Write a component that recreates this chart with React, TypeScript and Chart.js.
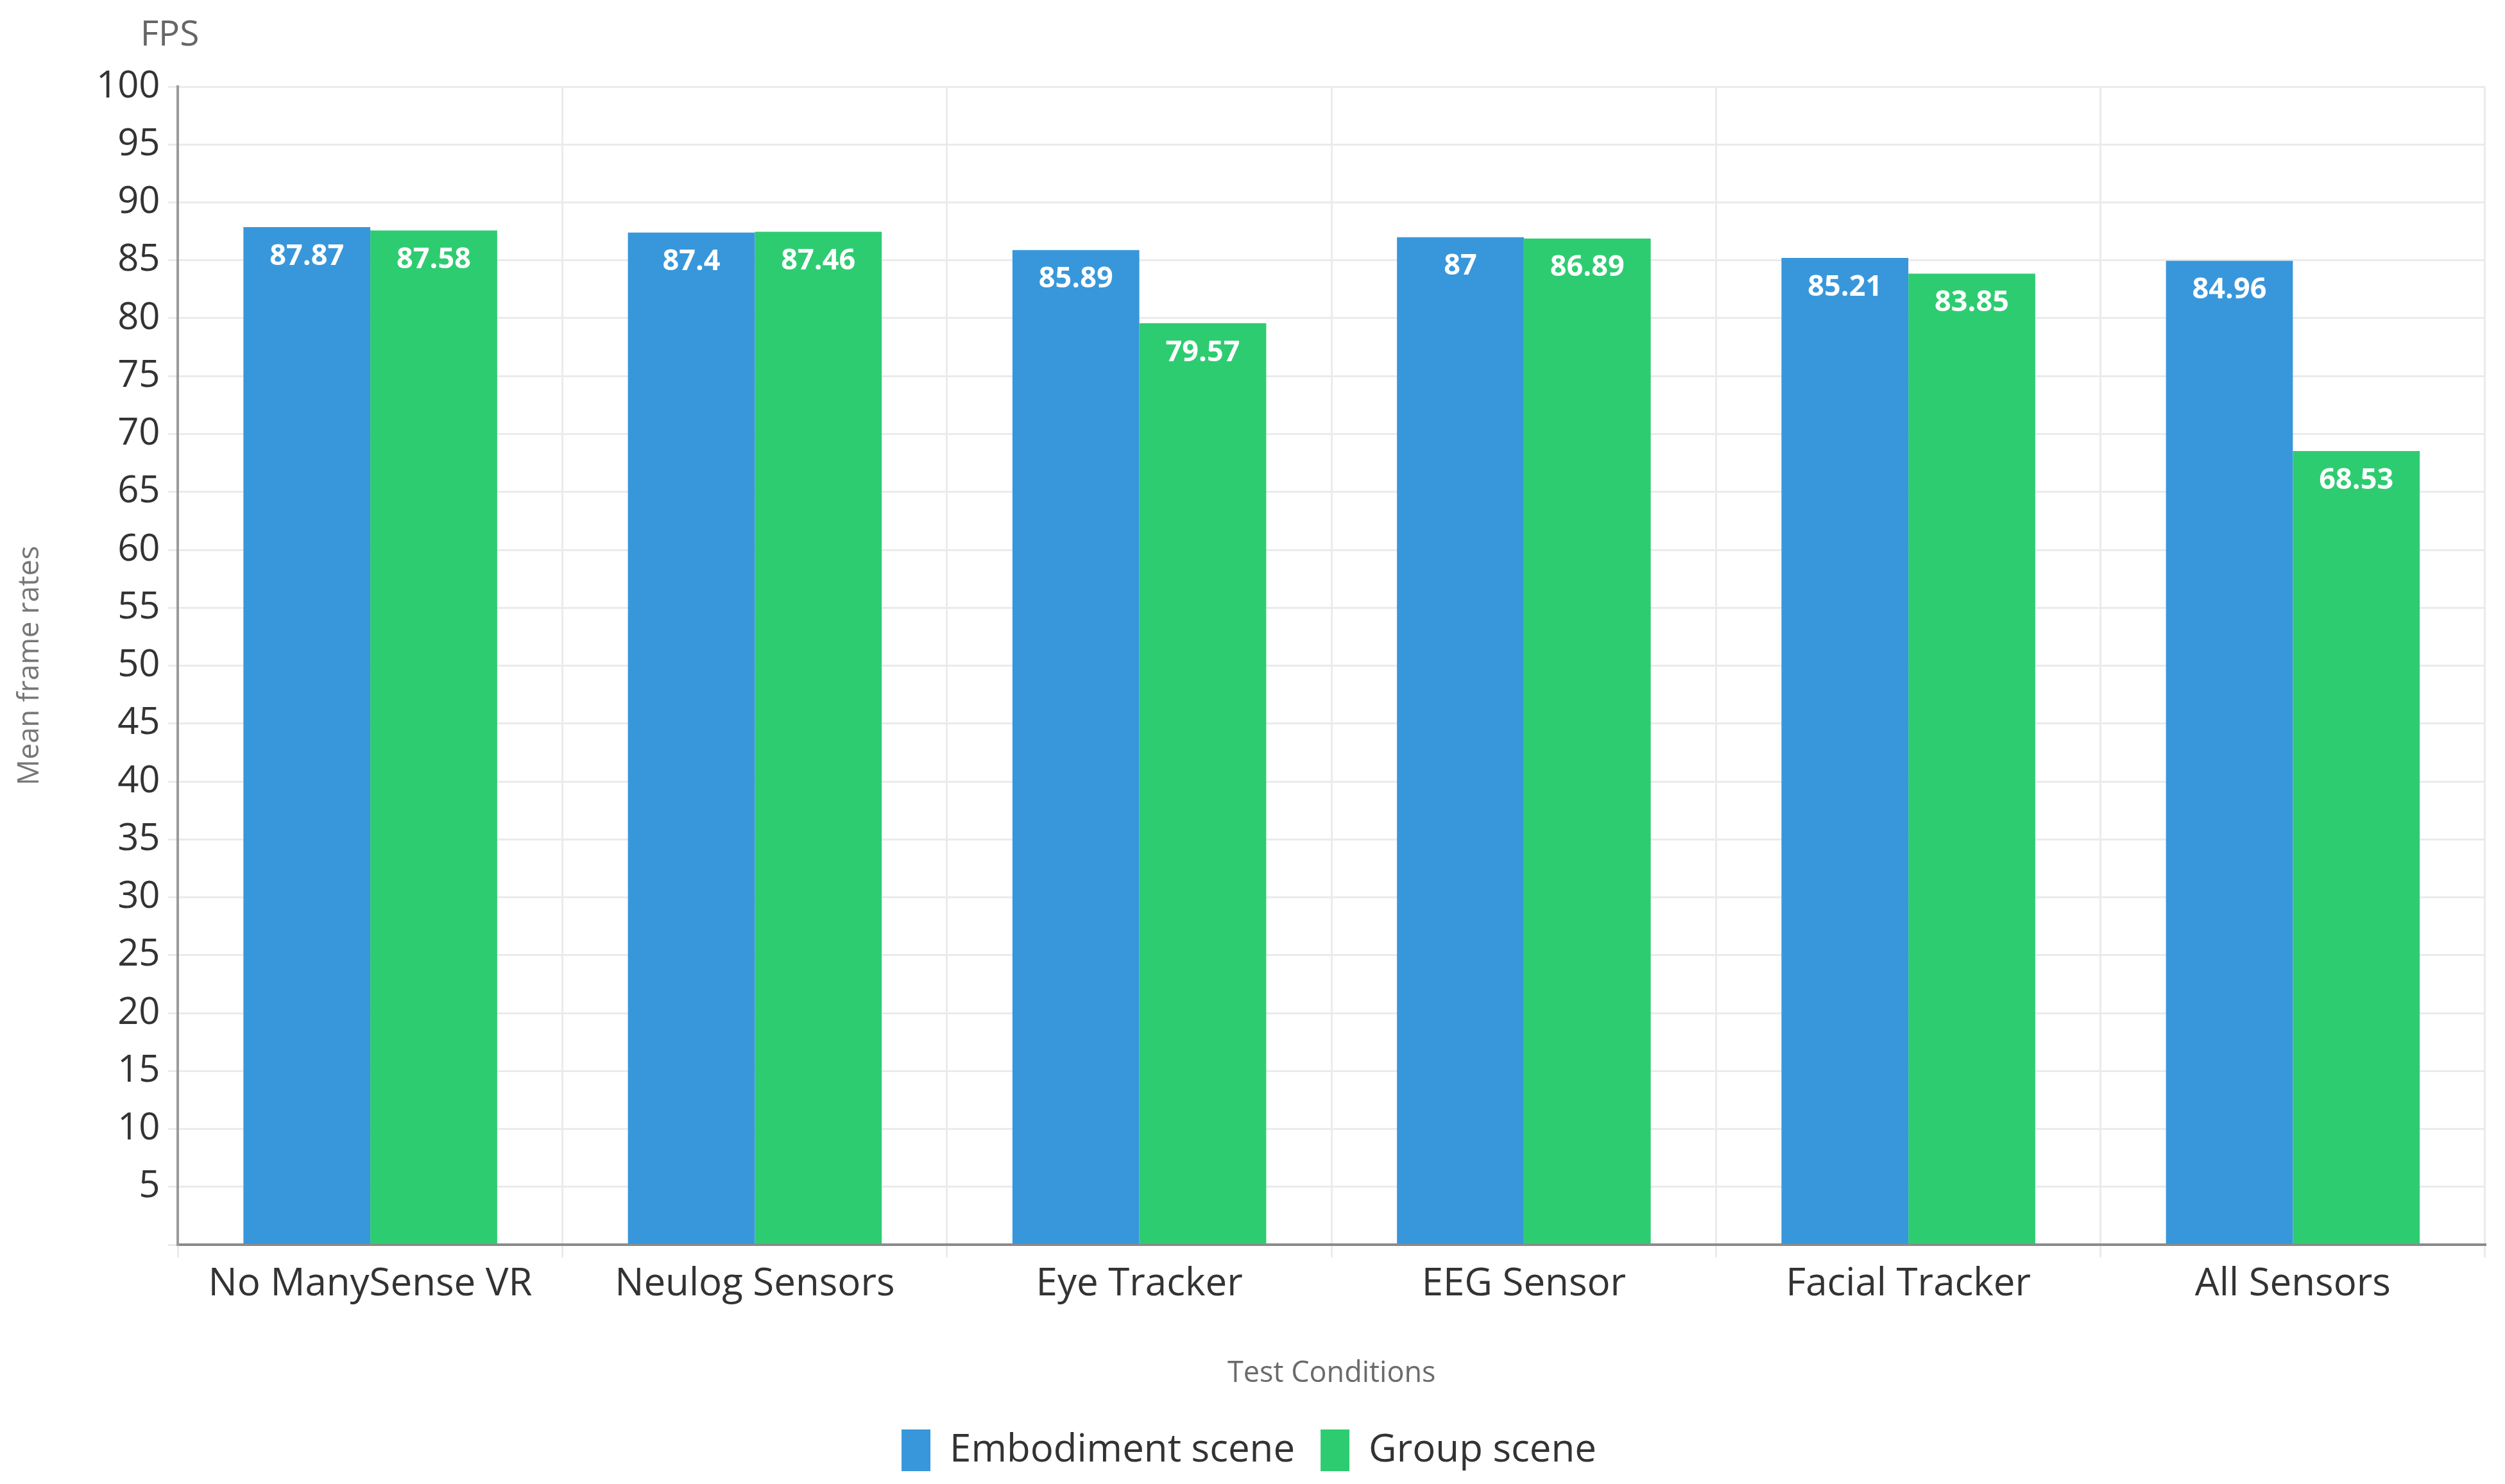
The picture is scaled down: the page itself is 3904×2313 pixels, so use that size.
import React, { useEffect, useRef } from "react";
import { Chart, registerables } from "chart.js";

Chart.register(...registerables);

const categories = ["No ManySense VR", "Neulog Sensors", "Eye Tracker", "EEG Sensor", "Facial Tracker", "All Sensors"];
const embodimentScene = [87.87, 87.4, 85.89, 87, 85.21, 84.96];
const groupScene = [87.58, 87.46, 79.57, 86.89, 83.85, 68.53];
const seriesNames = ["Embodiment scene", "Group scene"];
const yMin = 0;
const yMax = 100;
const yStep = 5;
const yUnit = "FPS";
const yTitle = "Mean frame rates";
const xTitle = "Test Conditions";

const FONT = "'Open Sans', 'Noto Sans', sans-serif";

const valueLabelPlugin = {
  id: "valueLabels",
  afterDatasetsDraw(chart: any) {
    const ctx = chart.ctx;
    ctx.save();
    ctx.fillStyle = "#ffffff";
    ctx.font = `bold 45px ${FONT}`;
    ctx.textAlign = "center";
    ctx.textBaseline = "middle";
    chart.data.datasets.forEach((ds: any, di: number) => {
      const meta = chart.getDatasetMeta(di);
      meta.data.forEach((bar: any, i: number) => {
        const v = ds.data[i];
        ctx.fillText(String(v), bar.x, bar.y + 46);
      });
    });
    ctx.restore();
  },
};

const unitPlugin = {
  id: "unitLabel",
  afterDraw(chart: any) {
    const ctx = chart.ctx;
    ctx.save();
    ctx.fillStyle = "#666666";
    ctx.font = `55px ${FONT}`;
    ctx.textAlign = "center";
    ctx.textBaseline = "middle";
    ctx.fillText(yUnit, chart.chartArea.left - 13, 55);
    ctx.restore();
  },
};

export default function App() {
  const ref = useRef<HTMLCanvasElement | null>(null);

  useEffect(() => {
    document.body.style.margin = "0";
    const canvas = ref.current;
    if (!canvas) return;
    const chart = new Chart(canvas, {
      type: "bar",
      data: {
        labels: categories,
        datasets: [
          {
            label: seriesNames[0],
            data: embodimentScene,
            backgroundColor: "#3897db",
            borderWidth: 0,
            categoryPercentage: 0.66,
            barPercentage: 1.0,
          },
          {
            label: seriesNames[1],
            data: groupScene,
            backgroundColor: "#2ecc71",
            borderWidth: 0,
            categoryPercentage: 0.66,
            barPercentage: 1.0,
          },
        ],
      },
      options: {
        responsive: false,
        animation: false,
        devicePixelRatio: 1,
        maintainAspectRatio: false,
        layout: { padding: { top: 135, left: 20, right: 31, bottom: 10 } },
        plugins: {
          legend: {
            position: "bottom",
            labels: {
              boxWidth: 45,
              boxHeight: 65,
              font: { family: FONT, size: 60 },
              color: "#333333",
              padding: 40,
            },
          },
          tooltip: { enabled: false },
        },
        scales: {
          x: {
            grid: { color: "#ebebeb", lineWidth: 3, offset: true, tickLength: 20 },
            border: { color: "#8a8a8a", width: 4 },
            ticks: { font: { family: FONT, size: 60 }, color: "#333333", padding: 6 },
            title: {
              display: true,
              text: xTitle,
              font: { family: FONT, size: 45 },
              color: "#6b6b6b",
              padding: { top: 70, bottom: 20 },
            },
          },
          y: {
            min: yMin,
            max: yMax,
            grid: { color: "#ebebeb", lineWidth: 3, tickLength: 16 },
            border: { color: "#9a9a9a", width: 4 },
            ticks: {
              stepSize: yStep,
              font: { family: FONT, size: 58 },
              color: "#333333",
              padding: 12,
              callback: (v: any) => (v === 0 ? "" : String(v)),
            },
            title: {
              display: true,
              text: yTitle,
              font: { family: FONT, size: 45 },
              color: "#777777",
              padding: { top: 0, bottom: 64 },
            },
          },
        },
      },
      plugins: [valueLabelPlugin, unitPlugin],
    });
    return () => chart.destroy();
  }, []);

  return (
    <div style={{ width: 3904, height: 2313, background: "#ffffff" }}>
      <canvas ref={ref} width={3904} height={2313} style={{ width: 3904, height: 2313, display: "block" }} />
    </div>
  );
}
